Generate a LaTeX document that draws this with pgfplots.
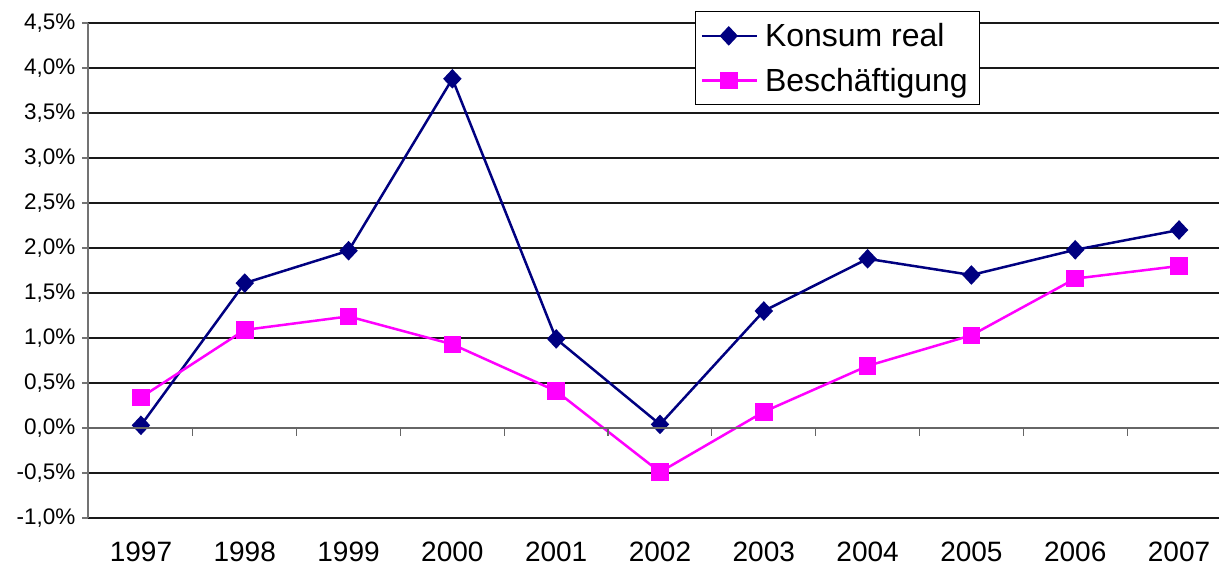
\documentclass[border=0pt]{standalone}
\usepackage{fontspec}
\setmainfont{Liberation Sans}
\usepackage{pgfplots}
\pgfplotsset{compat=1.18}
\definecolor{konsum}{RGB}{0,0,128}
\definecolor{besch}{RGB}{255,0,255}
\begin{document}
\begin{tikzpicture}
\path[use as bounding box] (0,0) rectangle (1219pt,573pt);
\begin{axis}[
  scale only axis, width=1131pt, height=495pt,
  at={(88pt,55pt)}, anchor=south west,
  xmin=-0.51, xmax=10.385, ymin=-1, ymax=4.5,
  axis x line=bottom, axis y line=left,
  x axis line style={draw=none},
  y axis line style={-, draw=black!55, line width=1.3pt},
  xtick={0,...,10},
  xticklabels={1997,1998,1999,2000,2001,2002,2003,2004,2005,2006,2007},
  x tick style={draw=none},
  xticklabel style={font=\fontsize{28}{33}\selectfont, yshift=-14pt},
  ytick={-1,-0.5,...,4.5},
  y tick style={draw=black!55, line width=1.2pt},
  major tick length=6pt, tick align=outside,
  yticklabel={\pgfmathprintnumber[fixed,fixed zerofill,precision=1,use comma]{\tick}\%},
  yticklabel style={font=\fontsize{22.5}{27}\selectfont, xshift=-3pt},
  /pgf/number format/assume math mode=true,
  ymajorgrids, major grid style={draw=black!90, line width=1.2pt},
  legend style={at={(0.5367,1.0242)}, anchor=north west, draw=black, line width=1pt,
    font=\fontsize{32}{38}\selectfont, row sep=16pt, inner xsep=5pt, inner ysep=10pt, fill=white,
    nodes={inner xsep=7pt}},
  legend cell align=left,
  legend image code/.code={\draw[mark repeat=2,mark phase=2] plot coordinates {(0pt,0pt) (27pt,0pt) (55pt,0pt)};},
]
\addplot[konsum, line width=2.5pt, mark=diamond*, mark size=8pt, mark options={xscale=1.25, solid}]
  coordinates {(0,0.03) (1,1.61) (2,1.97) (3,3.88) (4,0.99) (5,0.04) (6,1.30) (7,1.88) (8,1.70) (9,1.98) (10,2.20)};
\addlegendentry{Konsum real}
\addplot[besch, line width=2.5pt, mark=square*, mark size=7.5pt, mark options={solid}]
  coordinates {(0,0.34) (1,1.09) (2,1.24) (3,0.93) (4,0.41) (5,-0.49) (6,0.18) (7,0.69) (8,1.03) (9,1.66) (10,1.80)};
\addlegendentry{Beschäftigung}
\end{axis}
\begin{axis}[
  scale only axis, width=1131pt, height=495pt,
  at={(88pt,55pt)}, anchor=south west,
  xmin=-0.51, xmax=10.385, ymin=-1, ymax=4.5,
  axis x line=middle, axis y line=none,
  x axis line style={-, draw=black!60, line width=1.3pt},
  xtick={0.5,1.5,...,9.5}, xticklabels={},
  x tick style={draw=black!60, line width=1.2pt},
  major tick length=8pt, xtick align=outside,
]
\end{axis}
\end{tikzpicture}
\end{document}
